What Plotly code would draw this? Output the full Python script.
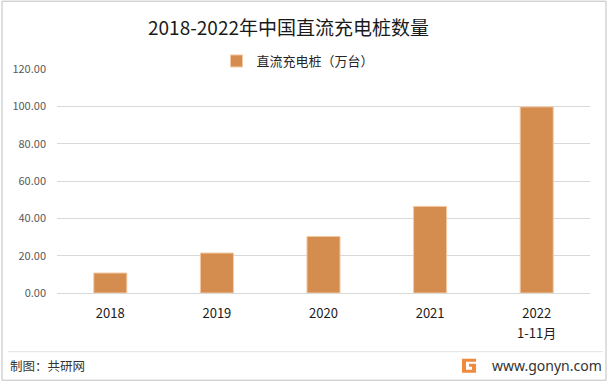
import plotly.graph_objects as go

categories = ["2018", "2019", "2020", "2021", "2022"]
values = [10.7, 21.4, 30.3, 46.4, 99.7]
series_name = "直流充电桩（万台）"
title_text = "2018-2022年中国直流充电桩数量"
extra_label = "1-11月"
y_ticks = [0, 20, 40, 60, 80, 100, 120]

FONT = "Noto Sans CJK SC, Noto Sans, sans-serif"

L, R, T, B = 57, 590, 69.3, 293.3
PW, PH = R - L, B - T


def px(x):
    return (x - L) / PW


def py(y):
    return (B - y) / PH


fig = go.Figure()
fig.add_trace(go.Bar(
    x=categories, y=values, name=series_name,
    marker=dict(color="#D58C4F", line=dict(color="#F2C9A2", width=1)),
))

fig.update_layout(
    width=611, height=384,
    margin=dict(l=L, r=611 - R, t=T, b=384 - B, autoexpand=False),
    paper_bgcolor="white", plot_bgcolor="white",
    font=dict(family=FONT, color="#262626"),
    title=dict(text=title_text, x=288.5 / 611, xanchor="center", y=1 - 28 / 384, yanchor="middle",
               font=dict(size=19, color="#1a1a1a", family=FONT)),
    showlegend=True,
    legend=dict(orientation="h", x=298 / 611, xanchor="center", y=1 - 61 / 384, yanchor="middle",
                yref="container", xref="container", font=dict(size=13, color="#262626"),
                bgcolor="rgba(0,0,0,0)"),
    bargap=0.69,
)
fig.update_yaxes(range=[0, 120], tickvals=y_ticks, tickformat=".2f",
                 showgrid=True, gridcolor="#D9D9D9", gridwidth=1,
                 zeroline=True, zerolinecolor="#D9D9D9", zerolinewidth=1,
                 showline=False, ticks="", ticklabelstandoff=10,
                 tickfont=dict(size=11, color="#595959"))
fig.update_xaxes(type="category", range=[-0.5, len(categories) - 0.5],
                 showgrid=False, showline=False, ticks="",
                 tickfont=dict(size=13, color="#1a1a1a"), ticklabelstandoff=11)

# second line of the last category label (centred under the last category)
fig.add_annotation(x=(len(categories) - 0.5) / len(categories), y=py(333),
                   yref="paper", xref="paper", xanchor="center",
                   text=extra_label, showarrow=False,
                   font=dict(size=13, color="#1a1a1a"), yanchor="middle")

# border and footer line
fig.add_shape(type="rect", xref="paper", yref="paper",
              x0=px(2), x1=px(606), y0=py(380.5), y1=py(1.5),
              line=dict(color="#BFBFBF", width=1), layer="below")
fig.add_shape(type="line", xref="paper", yref="paper",
              x0=px(8), x1=px(603), y0=py(352), y1=py(352),
              line=dict(color="#E3E3E3", width=1))

# footer texts
fig.add_annotation(xref="paper", yref="paper", x=px(8), y=py(366),
                   xanchor="left", yanchor="middle", showarrow=False,
                   text="制图：共研网", font=dict(size=12.5, color="#333333"))
fig.add_annotation(xref="paper", yref="paper", x=px(604), y=py(366),
                   xanchor="right", yanchor="middle", showarrow=False,
                   text="www.gonyn.com", font=dict(size=14, color="#333333", family="Noto Sans, sans-serif"))
# logo
pts = [(462, 359), (476, 359), (476, 362), (466, 362), (466, 370), (472, 370), (472, 367),
       (469, 367), (469, 364), (476, 364), (476, 373), (462, 373)]
path = "M " + " L ".join(f"{px(a)} {py(b)}" for a, b in pts) + " Z"
fig.add_shape(type="path", xref="paper", yref="paper", path=path,
              fillcolor="#F08A3C", line=dict(width=0))

fig.write_html("out.html", config={"displayModeBar": False},
               post_script="document.body.style.margin='0';document.body.style.overflow='hidden';")
